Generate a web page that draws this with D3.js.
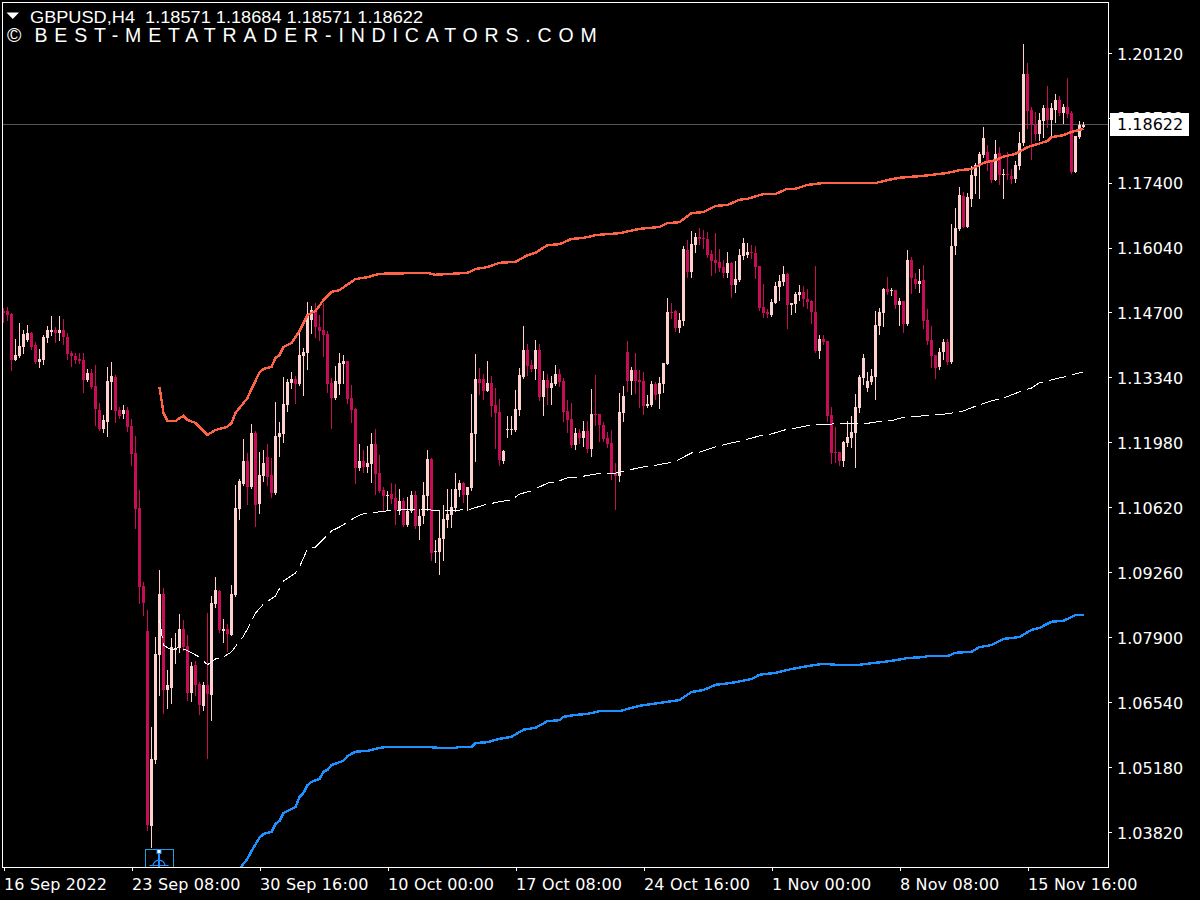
<!DOCTYPE html>
<html><head><meta charset="utf-8">
<style>html,body{margin:0;background:#000;overflow:hidden}svg{display:block}</style>
<script src="https://cdn.jsdelivr.net/npm/d3@7"></script></head><body>
<script>
const opens=[
1.1472,1.1472,1.1466,1.1370,1.1378,1.1397,1.1412,1.1426,1.1401,1.1366,
1.1370,1.1416,1.1428,1.1433,1.1426,1.1433,1.1418,1.1384,1.1378,1.1372,
1.1370,1.1328,1.1343,1.1315,1.1265,1.1225,1.1240,1.1324,1.1334,1.1265,
1.1257,1.1265,1.1232,1.1175,1.1060,1.0897,1.0803,1.0395,1.0533,1.0752,
1.0880,1.0679,1.0683,1.0763,1.0767,1.0807,1.0771,1.0673,1.0732,1.0692,
1.0646,1.0690,1.0669,1.0859,1.0886,1.0803,1.0807,1.0794,1.0878,1.1058,
1.1110,1.1158,1.1104,1.1217,1.1068,1.1127,1.1167,1.1129,1.1091,1.1209,
1.1215,1.1276,1.1322,1.1330,1.1320,1.1378,1.1384,1.1453,1.1472,1.1439,
1.1433,1.1424,1.1322,1.1290,1.1320,1.1361,1.1368,1.1290,1.1267,1.1144,
1.1158,1.1146,1.1152,1.1194,1.1133,1.1098,1.1085,1.1089,1.1081,1.1056,
1.1075,1.1025,1.1054,1.1087,1.1022,1.1043,1.1085,1.1163,1.0968,1.0968,
1.0995,1.1035,1.1045,1.1060,1.1098,1.1112,1.1087,1.1102,1.1215,1.1330,
1.1330,1.1305,1.1322,1.1276,1.1261,1.1158,1.1223,1.1223,1.1223,1.1265,
1.1334,1.1391,1.1359,1.1351,1.1391,1.1292,1.1328,1.1311,1.1320,1.1340,
1.1326,1.1263,1.1246,1.1192,1.1217,1.1207,1.1221,1.1184,1.1257,1.1257,
1.1234,1.1207,1.1196,1.1133,1.1127,1.1259,1.1386,1.1326,1.1349,1.1328,
1.1326,1.1273,1.1276,1.1320,1.1299,1.1320,1.1361,1.1470,1.1472,1.1437,
1.1451,1.1600,1.1554,1.1610,1.1627,1.1625,1.1623,1.1592,1.1579,1.1575,
1.1564,1.1552,1.1573,1.1527,1.1537,1.1587,1.1589,1.1596,1.1594,1.1566,
1.1481,1.1470,1.1464,1.1489,1.1522,1.1533,1.1550,1.1485,1.1487,1.1506,
1.1512,1.1497,1.1493,1.1470,1.1389,1.1414,1.1409,1.1255,1.1177,1.1177,
1.1158,1.1196,1.1207,1.1217,1.1269,1.1332,1.1311,1.1324,1.1334,1.1441,
1.1468,1.1518,1.1514,1.1516,1.1485,1.1493,1.1445,1.1579,1.1539,1.1529,
1.1537,1.1453,1.1412,1.1380,1.1355,1.1386,1.1407,1.1366,1.1608,1.1644,
1.1713,1.1648,1.1707,1.1755,1.1780,1.1799,1.1805,1.1786,1.1746,1.1803,
1.1757,1.1759,1.1755,1.1748,1.1776,1.1824,1.1968,1.1893,1.1861,1.1843,
1.1870,1.1897,1.1872,1.1893,1.1914,1.1887,1.1899,1.1887,1.1763,1.1836,
1.18571];
const closes=[
1.1468,1.1464,1.1370,1.1380,1.1399,1.1424,1.1426,1.1397,1.1366,1.1372,
1.1418,1.1433,1.1433,1.1426,1.1433,1.1418,1.1382,1.1378,1.1370,1.1368,
1.1328,1.1343,1.1313,1.1267,1.1225,1.1244,1.1326,1.1336,1.1263,1.1253,
1.1265,1.1230,1.1173,1.1058,1.0895,1.0861,1.0397,1.0535,1.0755,1.0880,
1.0679,1.0690,1.0769,1.0767,1.0807,1.0769,1.0673,1.0729,1.0690,1.0648,
1.0690,1.0671,1.0861,1.0888,1.0805,1.0807,1.0796,1.0880,1.1060,1.1117,
1.1158,1.1104,1.1217,1.1066,1.1129,1.1154,1.1125,1.1091,1.1211,1.1217,
1.1278,1.1324,1.1330,1.1320,1.1380,1.1386,1.1464,1.1474,1.1439,1.1430,
1.1422,1.1320,1.1290,1.1326,1.1363,1.1368,1.1288,1.1265,1.1144,1.1158,
1.1146,1.1154,1.1194,1.1131,1.1096,1.1085,1.1087,1.1079,1.1056,1.1075,
1.1025,1.1054,1.1087,1.1022,1.1043,1.1087,1.1163,1.0966,1.0970,1.0997,
1.1037,1.1048,1.1062,1.1100,1.1112,1.1087,1.1104,1.1217,1.1330,1.1322,
1.1305,1.1322,1.1273,1.1259,1.1160,1.1179,1.1225,1.1225,1.1267,1.1338,
1.1391,1.1357,1.1351,1.1391,1.1292,1.1328,1.1311,1.1322,1.1340,1.1324,
1.1261,1.1244,1.1192,1.1217,1.1207,1.1221,1.1184,1.1257,1.1255,1.1234,
1.1204,1.1194,1.1131,1.1127,1.1261,1.1294,1.1326,1.1349,1.1326,1.1324,
1.1273,1.1278,1.1320,1.1297,1.1322,1.1363,1.1470,1.1468,1.1437,1.1453,
1.1602,1.1554,1.1612,1.1627,1.1623,1.1623,1.1589,1.1577,1.1573,1.1562,
1.1552,1.1573,1.1527,1.1539,1.1589,1.1615,1.1596,1.1594,1.1564,1.1479,
1.1468,1.1466,1.1491,1.1525,1.1535,1.1550,1.1485,1.1489,1.1508,1.1512,
1.1497,1.1491,1.1470,1.1389,1.1414,1.1407,1.1253,1.1175,1.1175,1.1158,
1.1198,1.1209,1.1219,1.1271,1.1334,1.1374,1.1326,1.1336,1.1443,1.1470,
1.1518,1.1512,1.1516,1.1485,1.1493,1.1445,1.1579,1.1541,1.1529,1.1535,
1.1451,1.1409,1.1378,1.1353,1.1386,1.1407,1.1366,1.1608,1.1646,1.1715,
1.1648,1.1711,1.1757,1.1778,1.1801,1.1834,1.1786,1.1746,1.1801,1.1757,
1.1759,1.1757,1.1748,1.1778,1.1824,1.1968,1.1891,1.1864,1.1843,1.1872,
1.1897,1.1872,1.1897,1.1914,1.1887,1.1899,1.1884,1.1763,1.1838,1.1861,
1.18622];
const highs=[
1.1479,1.1481,1.1468,1.1414,1.1447,1.1433,1.1443,1.1428,1.1407,1.1393,
1.1422,1.1441,1.1462,1.1439,1.1462,1.1456,1.1426,1.1389,1.1384,1.1384,
1.1384,1.1351,1.1351,1.1359,1.1280,1.1255,1.1355,1.1366,1.1338,1.1271,
1.1276,1.1271,1.1246,1.1211,1.1098,1.0905,1.0847,1.0602,1.0790,1.0930,
1.0893,1.0721,1.0788,1.0799,1.0838,1.0826,1.0794,1.0738,1.0740,1.0696,
1.0696,1.0840,1.0876,1.0916,1.0888,1.0828,1.0817,1.0899,1.1108,1.1121,
1.1204,1.1175,1.1236,1.1221,1.1177,1.1181,1.1194,1.1165,1.1282,1.1240,
1.1334,1.1330,1.1345,1.1336,1.1428,1.1395,1.1491,1.1483,1.1489,1.1464,
1.1489,1.1430,1.1332,1.1357,1.1384,1.1380,1.1368,1.1317,1.1269,1.1194,
1.1181,1.1190,1.1217,1.1225,1.1171,1.1104,1.1096,1.1112,1.1110,1.1100,
1.1081,1.1083,1.1096,1.1096,1.1058,1.1114,1.1181,1.1165,1.0993,1.1056,
1.1066,1.1100,1.1100,1.1133,1.1119,1.1114,1.1104,1.1299,1.1382,1.1353,
1.1340,1.1368,1.1336,1.1311,1.1288,1.1181,1.1253,1.1253,1.1307,1.1353,
1.1441,1.1403,1.1370,1.1412,1.1403,1.1347,1.1340,1.1336,1.1359,1.1351,
1.1332,1.1286,1.1280,1.1227,1.1225,1.1242,1.1242,1.1309,1.1338,1.1257,
1.1240,1.1219,1.1223,1.1154,1.1301,1.1315,1.1409,1.1355,1.1384,1.1349,
1.1345,1.1297,1.1326,1.1324,1.1334,1.1363,1.1499,1.1489,1.1474,1.1468,
1.1608,1.1621,1.1640,1.1635,1.1646,1.1642,1.1638,1.1600,1.1635,1.1602,
1.1579,1.1596,1.1575,1.1577,1.1602,1.1625,1.1615,1.1610,1.1608,1.1566,
1.1529,1.1476,1.1497,1.1533,1.1548,1.1566,1.1552,1.1489,1.1512,1.1527,
1.1525,1.1518,1.1495,1.1566,1.1422,1.1422,1.1409,1.1271,1.1230,1.1177,
1.1200,1.1242,1.1253,1.1299,1.1338,1.1382,1.1345,1.1351,1.1472,1.1479,
1.1520,1.1543,1.1520,1.1516,1.1499,1.1493,1.1600,1.1585,1.1552,1.1560,
1.1569,1.1476,1.1441,1.1380,1.1395,1.1414,1.1414,1.1654,1.1688,1.1732,
1.1721,1.1719,1.1776,1.1782,1.1805,1.1857,1.1820,1.1786,1.1830,1.1815,
1.1769,1.1805,1.1769,1.1786,1.1847,1.2031,1.1991,1.1899,1.1889,1.1887,
1.1903,1.1943,1.1907,1.1926,1.1922,1.1905,1.1960,1.1891,1.1838,1.1870,
1.18684];
const lows=[
1.1449,1.1453,1.1349,1.1370,1.1376,1.1384,1.1409,1.1393,1.1363,1.1355,
1.1361,1.1407,1.1422,1.1407,1.1412,1.1403,1.1372,1.1357,1.1363,1.1363,
1.1303,1.1326,1.1311,1.1234,1.1223,1.1219,1.1211,1.1267,1.1240,1.1248,
1.1248,1.1221,1.1150,1.1018,1.0861,1.0836,1.0386,1.0351,1.0526,1.0669,
1.0631,1.0642,1.0652,1.0736,1.0759,1.0763,1.0658,1.0656,1.0669,1.0629,
1.0637,1.0537,1.0616,1.0853,1.0801,1.0780,1.0761,1.0794,1.0876,1.1037,
1.1108,1.1068,1.1102,1.1022,1.1050,1.1117,1.1108,1.1083,1.1089,1.1169,
1.1198,1.1263,1.1311,1.1280,1.1317,1.1297,1.1351,1.1426,1.1418,1.1412,
1.1378,1.1303,1.1227,1.1288,1.1299,1.1322,1.1280,1.1240,1.1112,1.1140,
1.1135,1.1135,1.1114,1.1089,1.1094,1.1054,1.1056,1.1071,1.1027,1.1048,
1.1022,1.1022,1.1052,1.1018,1.0995,1.1029,1.1056,1.0951,1.0947,1.0922,
1.0951,1.1020,1.1020,1.1054,1.1085,1.1073,1.1056,1.1098,1.1158,1.1299,
1.1288,1.1305,1.1253,1.1186,1.1150,1.1154,1.1209,1.1215,1.1221,1.1255,
1.1332,1.1338,1.1347,1.1330,1.1286,1.1255,1.1278,1.1278,1.1317,1.1315,
1.1242,1.1219,1.1188,1.1184,1.1196,1.1190,1.1177,1.1169,1.1234,1.1200,
1.1200,1.1188,1.1121,1.1058,1.1117,1.1242,1.1305,1.1299,1.1301,1.1271,
1.1257,1.1271,1.1273,1.1288,1.1269,1.1303,1.1361,1.1458,1.1430,1.1428,
1.1443,1.1543,1.1543,1.1596,1.1612,1.1604,1.1585,1.1548,1.1554,1.1556,
1.1543,1.1543,1.1502,1.1512,1.1535,1.1581,1.1585,1.1583,1.1541,1.1474,
1.1460,1.1460,1.1462,1.1489,1.1495,1.1527,1.1437,1.1466,1.1470,1.1495,
1.1483,1.1479,1.1447,1.1386,1.1374,1.1403,1.1242,1.1154,1.1156,1.1150,
1.1148,1.1190,1.1188,1.1146,1.1261,1.1320,1.1305,1.1320,1.1288,1.1424,
1.1441,1.1508,1.1506,1.1479,1.1443,1.1428,1.1443,1.1510,1.1520,1.1512,
1.1437,1.1403,1.1355,1.1332,1.1351,1.1372,1.1361,1.1363,1.1592,1.1642,
1.1648,1.1648,1.1692,1.1719,1.1709,1.1794,1.1767,1.1742,1.1746,1.1738,
1.1709,1.1748,1.1740,1.1742,1.1769,1.1820,1.1855,1.1790,1.1830,1.1830,
1.1836,1.1857,1.1836,1.1868,1.1882,1.1866,1.1878,1.1761,1.1763,1.1834,
1.18571];

const upperBars=[39,40,41,43,44,45,46,48,51,53,56,57,58,61,62,64,65,67,68,69,70,72,74,76,78,80,82,84,88,91,94,106,108,112,116,118,121,124,128,131,133,136,139,142,145,148,154,159,164,166,169,172,175,178,181,184,186,190,193,196,198,201,205,209,214,218,221,224,230,236,239,242,244,245,248,250,253,256,258,261,262,265,267,270];
const upperValues=[1.1313,1.1259,1.1242,1.1242,1.1248,1.1253,1.1244,1.1238,1.1213,1.1223,1.1230,1.1238,1.1259,1.1290,1.1309,1.1343,1.1351,1.1355,1.1374,1.1380,1.1397,1.1405,1.1430,1.1464,1.1472,1.1495,1.1512,1.1516,1.1539,1.1543,1.1550,1.1552,1.1548,1.1550,1.1552,1.1560,1.1564,1.1573,1.1575,1.1589,1.1594,1.1610,1.1612,1.1623,1.1625,1.1631,1.1635,1.1644,1.1648,1.1656,1.1658,1.1677,1.1679,1.1692,1.1694,1.1705,1.1707,1.1717,1.1717,1.1728,1.1728,1.1736,1.1740,1.1740,1.1740,1.1740,1.1746,1.1751,1.1755,1.1761,1.1767,1.1769,1.1778,1.1782,1.1788,1.1795,1.1801,1.1815,1.1820,1.1828,1.1836,1.1840,1.1847,1.1853];

const lowerBars=[59,61,62,64,65,67,68,69,70,73,74,75,76,77,79,80,81,82,85,86,88,91,94,96,106,109,113,114,117,118,121,124,127,130,133,136,139,140,143,146,149,154,159,164,169,172,175,178,182,187,189,193,197,201,205,208,214,218,222,226,230,231,236,238,242,244,247,250,254,257,259,262,265,268,270];
const lowerValues=[1.0305,1.0326,1.0342,1.0370,1.0378,1.0382,1.0399,1.0405,1.0422,1.0434,1.0455,1.0464,1.0480,1.0487,1.0493,1.0508,1.0512,1.0522,1.0531,1.0541,1.0550,1.0552,1.0558,1.0560,1.0560,1.0558,1.0558,1.0560,1.0560,1.0568,1.0570,1.0577,1.0581,1.0596,1.0600,1.0614,1.0616,1.0623,1.0627,1.0629,1.0635,1.0635,1.0646,1.0652,1.0658,1.0675,1.0679,1.0690,1.0694,1.0702,1.0711,1.0715,1.0723,1.0729,1.0734,1.0732,1.0732,1.0736,1.0740,1.0746,1.0748,1.0750,1.0750,1.0757,1.0759,1.0769,1.0773,1.0786,1.0790,1.0805,1.0809,1.0822,1.0824,1.0836,1.0836];

const middleBars=[39,40,42,44,47,49,51,53,55,57,60,61,63,65,68,70,73,74,76,78,82,84,88,90,94,96,100,106,112,117,120,124,127,129,132,136,138,141,144,148,153,155,160,162,166,168,172,174,178,180,184,186,190,192,196,198,202,208,215,220,222,224,230,236,240,243,247,250,254,257,259,262,266,270];
const middleValues=[1.0826,1.0773,1.0763,1.0769,1.0757,1.0748,1.0732,1.0744,1.0748,1.0759,1.0792,1.0807,1.0840,1.0859,1.0876,1.0907,1.0924,1.0937,1.0974,1.0978,1.1012,1.1020,1.1041,1.1048,1.1052,1.1054,1.1056,1.1056,1.1054,1.1058,1.1066,1.1073,1.1077,1.1089,1.1096,1.1112,1.1114,1.1123,1.1125,1.1131,1.1133,1.1137,1.1146,1.1148,1.1154,1.1158,1.1175,1.1177,1.1188,1.1192,1.1200,1.1204,1.1213,1.1215,1.1225,1.1227,1.1234,1.1236,1.1236,1.1242,1.1242,1.1248,1.1253,1.1257,1.1263,1.1273,1.1284,1.1290,1.1303,1.1311,1.1322,1.1328,1.1336,1.1345];

const priceTicks=[1.2012,1.1876,1.1740,1.1604,1.1470,1.1334,1.1198,1.1062,1.0926,1.0790,1.0654,1.0518,1.0382];
const timeTickBars=[0,32,64,96,128,160,192,224,256];
const timeLabels=["16 Sep 2022","23 Sep 08:00","30 Sep 16:00","10 Oct 00:00","17 Oct 08:00","24 Oct 16:00","1 Nov 00:00","8 Nov 08:00","15 Nov 16:00"];
const lastPrice=1.18622;
const headerText="GBPUSD,H4  1.18571 1.18684 1.18571 1.18622";
const watermarkMark="©";
const watermarkSite="BEST-METATRADER-INDICATORS.COM";
const arrowBar=39, arrowPrice=1.0342;

const W=1200,H=900,frameL=2,frameR=1108,frameT=2,frameB=867;
const bull="#FFD2CE",bear="#C60E58";
const x=d3.scaleLinear().domain([0,270]).range([3.5,1083.5]);
const y=d3.scaleLinear().domain([1.2012,1.0382]).range([53,832]);

const svg=d3.select("body").append("svg").attr("width",W).attr("height",H).style("background","#000");
svg.append("clipPath").attr("id","plot").append("rect").attr("x",frameL+1).attr("y",frameT+1).attr("width",frameR-frameL-1).attr("height",frameB-frameT-1);
const plot=svg.append("g").attr("clip-path","url(#plot)");

// current price line
const ty=Math.floor(y(lastPrice));
plot.append("line").attr("x1",frameL).attr("x2",frameR).attr("y1",ty+.5).attr("y2",ty+.5)
  .attr("stroke","#555").attr("shape-rendering","crispEdges");

const candles=d3.range(opens.length).map(i=>({i,o:opens[i],h:highs[i],l:lows[i],c:closes[i]}));
const col=d=>d.c>=d.o?bull:bear;
const g=plot.append("g").attr("shape-rendering","crispEdges");
g.selectAll(".w").data(candles).join("rect").attr("class","w")
  .attr("x",d=>x(d.i)-.5).attr("width",1)
  .attr("y",d=>Math.round(y(d.h))).attr("height",d=>Math.max(1,Math.round(y(d.l))-Math.round(y(d.h))+1))
  .attr("fill",col);
g.selectAll(".b").data(candles).join("rect").attr("class","b")
  .attr("x",d=>x(d.i)-1.5).attr("width",3)
  .attr("y",d=>Math.round(y(Math.max(d.o,d.c))))
  .attr("height",d=>Math.max(1,Math.round(y(Math.min(d.o,d.c)))-Math.round(y(Math.max(d.o,d.c)))))
  .attr("fill",col);

function series(bars,vals,stroke,w,dash){
  const line=d3.line().x((d,k)=>x(bars[k])).y(d=>y(d));
  const p=plot.append("path").attr("d",line(vals)).attr("fill","none").attr("stroke",stroke).attr("stroke-width",w).attr("shape-rendering","crispEdges");
  if(dash)p.attr("stroke-dasharray",dash);
}
series(middleBars,middleValues,"#ffffff",1,"18 6");
series(upperBars,upperValues,"#FF6347",2.4);
series(lowerBars,lowerValues,"#1E90FF",2.4);

// arrow marker at the low bar
const ax=Math.round(x(arrowBar))-.5, ay=y(arrowPrice);
const mark=plot.append("g");
mark.append("rect").attr("x",ax-13).attr("y",Math.round(ay)-1.5).attr("width",28).attr("height",30).attr("fill","none").attr("stroke","#1BA1E2").attr("shape-rendering","crispEdges");
mark.append("line").attr("x1",ax+.5).attr("x2",ax+.5).attr("y1",ay).attr("y2",ay+18).attr("stroke","#1E90FF").attr("stroke-width",2);
mark.append("path").attr("d",`M${ax-5.5},${ay+15} A6,6 0 0 1 ${ax+6.5},${ay+15}`).attr("fill","none").attr("stroke","#1E90FF").attr("stroke-width",1.2);
mark.append("line").attr("x1",ax-9).attr("x2",ax+10).attr("y1",Math.round(ay)+14.5).attr("y2",Math.round(ay)+14.5).attr("stroke","#1E90FF");
mark.append("rect").attr("x",ax-1.5).attr("y",Math.round(ay)-1.5).attr("width",4).attr("height",4).attr("fill","#fff").attr("stroke","#1E90FF");

// frame
svg.append("rect").attr("x",frameL+.5).attr("y",frameT+.5).attr("width",frameR-frameL).attr("height",frameB-frameT).attr("fill","none").attr("stroke","#fff").attr("shape-rendering","crispEdges");

const font="'DejaVu Sans',sans-serif";
// price axis
const ya=svg.append("g").attr("transform",`translate(${frameR+.5},0)`).call(
  d3.axisRight(y).tickValues(priceTicks).tickFormat(d3.format(".5f")).tickSize(3).tickPadding(6));
ya.select(".domain").remove();
ya.selectAll("line").attr("stroke","#fff").attr("shape-rendering","crispEdges");
ya.selectAll("text").attr("fill","#fff").attr("dy",null).attr("y",6).attr("x",8.5).attr("font-family",font).attr("font-size",16);

// time axis
const xa=svg.append("g").attr("transform",`translate(0,${frameB+.5})`).call(
  d3.axisBottom(x).tickValues(timeTickBars).tickFormat((d,k)=>timeLabels[k]).tickSize(3));
xa.select(".domain").remove();
xa.selectAll("line").attr("stroke","#fff").attr("shape-rendering","crispEdges");
xa.selectAll("text").attr("fill","#fff").attr("text-anchor","start").attr("dy",null).attr("y",22).attr("x",0).attr("letter-spacing",.15).attr("font-family",font).attr("font-size",16);

// price tag
svg.append("rect").attr("x",1110).attr("y",ty-11).attr("width",79).attr("height",23).attr("fill","#fff");
svg.append("text").attr("x",1117).attr("y",ty+6).attr("fill","#000").attr("font-family",font).attr("font-size",16).text(d3.format(".5f")(lastPrice));

// header
svg.append("path").attr("d","M6.5,12.5 L19,12.5 L12.75,19 Z").attr("fill","#fff");
svg.append("text").attr("x",30).attr("y",23).style("white-space","pre").attr("fill","#fff")
  .attr("font-family","'Liberation Sans',sans-serif").attr("font-size",17).attr("textLength",393).attr("lengthAdjust","spacingAndGlyphs").text(headerText);
svg.append("text").attr("x",7).attr("y",42).attr("fill","#fff").attr("font-family","'Liberation Sans',sans-serif").attr("font-size",19.5).text(watermarkMark);
svg.append("text").attr("x",34.5).attr("y",42).attr("fill","#fff").attr("font-family","'Liberation Sans',sans-serif").attr("font-size",19.5)
  .attr("letter-spacing",6.85).text(watermarkSite);
</script></body></html>
